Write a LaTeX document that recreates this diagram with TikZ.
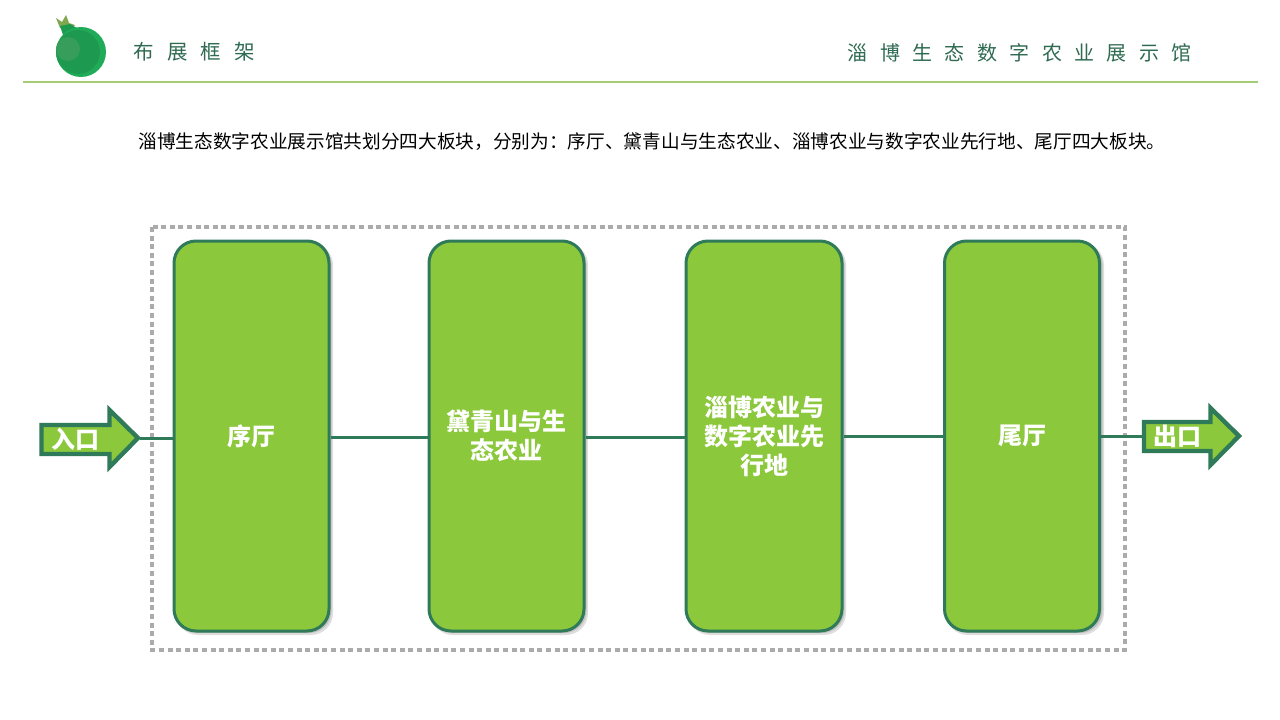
\documentclass[tikz,border=0pt]{standalone}
\usepackage{fontspec}
\setmainfont{Noto Sans CJK SC}
\newfontfamily\headfont[LetterSpace=65]{Noto Sans CJK SC}
\newfontfamily\titlefont[LetterSpace=62]{Noto Sans CJK SC}
\usetikzlibrary{calc}
\definecolor{dkgreen}{HTML}{2F7A58}
\definecolor{leaf}{HTML}{8BC83C}
\definecolor{headgreen}{HTML}{2F6B52}
\definecolor{rulegreen}{HTML}{A3CC74}
\definecolor{dotgray}{HTML}{ABABAB}
\definecolor{ball}{HTML}{1FAB58}
\definecolor{ballmid}{HTML}{1E9A50}
\definecolor{ballin}{HTML}{369E5A}
\definecolor{crown}{HTML}{7FA850}
\tikzset{
  x=1pt,y=-1pt,
  stage/.style={draw=dkgreen,line width=3pt,fill=leaf,rounded corners=22pt,minimum width=155pt,minimum height=390pt,inner sep=0pt,align=center,text=white,font=\bfseries\fontsize{24}{29}\selectfont},
  link/.style={draw=dkgreen,line width=3pt},
  gate/.style={draw=dkgreen,line width=4.4pt,fill=leaf,line join=miter},
  gatetext/.style={text=white,font=\bfseries\fontsize{24}{26}\selectfont,inner sep=0pt},
  shade/.style={fill=black,opacity=.13,rounded corners=22pt}
}
\begin{document}
\begin{tikzpicture}
\useasboundingbox[fill=white] (0,0) rectangle (1280,720);
% logo
\fill[crown] (60,28) -- (56,18) -- (62,22) -- (66,15) -- (69,23) -- (75,25) -- (70,30) -- cycle;
\fill[ballmid] (60,26) -- (70,24) -- (80,30) -- (64,38) -- cycle;
\fill[ball] (81,52) circle[radius=25];
\fill[ballmid] (78,52) circle[radius=22];
\fill[ballin] (68,49) circle[radius=12];
% header
\node[anchor=west,inner sep=0pt,text=headgreen,font=\headfont\fontsize{20.5}{24}\selectfont] (headl) at (133,52) {布展框架};
\node[anchor=west,inner sep=0pt,text=headgreen,font=\titlefont\fontsize{20}{24}\selectfont] (headr) at (847.5,53) {淄博生态数字农业展示馆};
\draw[rulegreen,line width=1.8pt] (23,82) -- (1258,82);
\node[inner sep=0pt,text=black,font=\fontsize{18.67}{22}\selectfont] (intro) at (652,142) {淄博生态数字农业展示馆共划分四大板块，分别为：序厅、黛青山与生态农业、淄博农业与数字农业先行地、尾厅四大板块。};
% dotted frame
\draw[dotgray,line width=4.5pt,dash pattern=on 5pt off 3.6pt] (152,227) rectangle (1125,650);
% shadows
\foreach \xa/\xb in {174/329,429/584,686/842,944/1100}{
  \fill[shade] (\xa+2,243) rectangle (\xb+4,635);
  \fill[shade] (\xa+2,243) rectangle (\xb+2.5,633);
}
% stages
\node[stage] (s1) at (251.5,436) {序厅};
\node[stage] (s2) at (506.5,436) {黛青山与生\\态农业};
\node[stage,minimum width=156pt] (s3) at (764,436) {淄博农业与\\数字农业先\\行地};
\node[stage] (s4) at (1022,436) {尾厅};
% gates
\draw[gate] (41.5,425) -- (109.5,425) -- (109.5,410) -- (138,438) -- (109.5,467) -- (109.5,454) -- (41.5,454) -- cycle;
\draw[gate] (1144,422) -- (1210.5,422) -- (1210.5,408) -- (1239,436) -- (1210.5,465) -- (1210.5,451) -- (1144,451) -- cycle;
\coordinate (ein) at (140,438);
\coordinate (eout) at (1142,436);
\node[gatetext] (tin) at (75,439) {入口};
\node[gatetext] (tout) at (1177,436) {出口};
% connectors
\draw[link] (ein) -- (s1.west |- ein);
\draw[link] ($(s1.east)+(0,1)$) -- ($(s2.west)+(0,1)$);
\draw[link] ($(s2.east)+(0,1)$) -- ($(s3.west)+(0,1)$);
\draw[link] (s3.east) -- (s4.west);
\draw[link] (s4.east) -- (eout);
\end{tikzpicture}
\end{document}
